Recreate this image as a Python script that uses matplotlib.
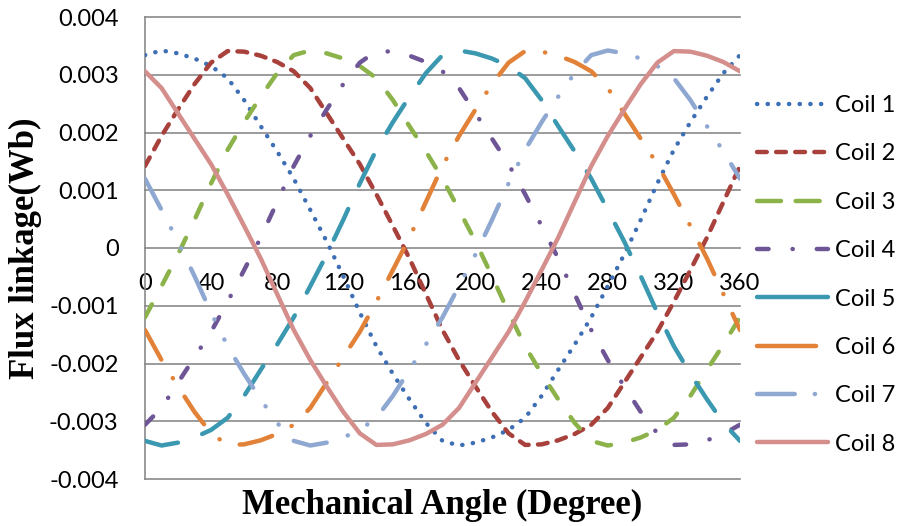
import matplotlib
matplotlib.use("Agg")
import matplotlib.pyplot as plt
from matplotlib.lines import Line2D

# Mechanical angle (degree)
angle = list(range(0, 361, 10))

# Flux linkage (Wb) of each coil
coil1 = [0.00334, 0.00342, 0.00337, 0.00328, 0.00315, 0.00294, 0.00256, 0.00211, 0.00167, 0.00120,
         0.00066, 0.00011, -0.00049, -0.00112, -0.00170, -0.00218, -0.00262, -0.00303, -0.00334, -0.00342,
         -0.00337, -0.00328, -0.00315, -0.00294, -0.00256, -0.00211, -0.00167, -0.00120, -0.00066, -0.00011,
         0.00049, 0.00112, 0.00170, 0.00218, 0.00262, 0.00303, 0.00334]
coil2 = [0.00142, 0.00194, 0.00240, 0.00284, 0.00321, 0.00341, 0.00340, 0.00333, 0.00322, 0.00306,
         0.00277, 0.00233, 0.00189, 0.00145, 0.00093, 0.00038, -0.00018, -0.00080, -0.00142, -0.00194,
         -0.00240, -0.00284, -0.00321, -0.00341, -0.00340, -0.00333, -0.00322, -0.00306, -0.00277, -0.00233,
         -0.00189, -0.00145, -0.00093, -0.00038, 0.00018, 0.00080, 0.00142]
coil3 = [-0.00120, -0.00066, -0.00011, 0.00049, 0.00112, 0.00170, 0.00218, 0.00262, 0.00303, 0.00334,
         0.00342, 0.00337, 0.00328, 0.00315, 0.00294, 0.00256, 0.00211, 0.00167, 0.00120, 0.00066,
         0.00011, -0.00049, -0.00112, -0.00170, -0.00218, -0.00262, -0.00303, -0.00334, -0.00342, -0.00337,
         -0.00328, -0.00315, -0.00294, -0.00256, -0.00211, -0.00167, -0.00120]
coil4 = [-0.00306, -0.00277, -0.00233, -0.00189, -0.00145, -0.00093, -0.00038, 0.00018, 0.00080, 0.00142,
         0.00194, 0.00240, 0.00284, 0.00321, 0.00341, 0.00340, 0.00333, 0.00322, 0.00306, 0.00277,
         0.00233, 0.00189, 0.00145, 0.00093, 0.00038, -0.00018, -0.00080, -0.00142, -0.00194, -0.00240,
         -0.00284, -0.00321, -0.00341, -0.00340, -0.00333, -0.00322, -0.00306]
coil5 = [-0.00334, -0.00342, -0.00337, -0.00328, -0.00315, -0.00294, -0.00256, -0.00211, -0.00167, -0.00120,
         -0.00066, -0.00011, 0.00049, 0.00112, 0.00170, 0.00218, 0.00262, 0.00303, 0.00334, 0.00342,
         0.00337, 0.00328, 0.00315, 0.00294, 0.00256, 0.00211, 0.00167, 0.00120, 0.00066, 0.00011,
         -0.00049, -0.00112, -0.00170, -0.00218, -0.00262, -0.00303, -0.00334]
coil6 = [-0.00142, -0.00194, -0.00240, -0.00284, -0.00321, -0.00341, -0.00340, -0.00333, -0.00322, -0.00306,
         -0.00277, -0.00233, -0.00189, -0.00145, -0.00093, -0.00038, 0.00018, 0.00080, 0.00142, 0.00194,
         0.00240, 0.00284, 0.00321, 0.00341, 0.00340, 0.00333, 0.00322, 0.00306, 0.00277, 0.00233,
         0.00189, 0.00145, 0.00093, 0.00038, -0.00018, -0.00080, -0.00142]
coil7 = [0.00120, 0.00066, 0.00011, -0.00049, -0.00112, -0.00170, -0.00218, -0.00262, -0.00303, -0.00334,
         -0.00342, -0.00337, -0.00328, -0.00315, -0.00294, -0.00256, -0.00211, -0.00167, -0.00120, -0.00066,
         -0.00011, 0.00049, 0.00112, 0.00170, 0.00218, 0.00262, 0.00303, 0.00334, 0.00342, 0.00337,
         0.00328, 0.00315, 0.00294, 0.00256, 0.00211, 0.00167, 0.00120]
coil8 = [0.00306, 0.00277, 0.00233, 0.00189, 0.00145, 0.00093, 0.00038, -0.00018, -0.00080, -0.00142,
         -0.00194, -0.00240, -0.00284, -0.00321, -0.00341, -0.00340, -0.00333, -0.00322, -0.00306, -0.00277,
         -0.00233, -0.00189, -0.00145, -0.00093, -0.00038, 0.00018, 0.00080, 0.00142, 0.00194, 0.00240,
         0.00284, 0.00321, 0.00341, 0.00340, 0.00333, 0.00322, 0.00306]

series_names = ["Coil 1", "Coil 2", "Coil 3", "Coil 4", "Coil 5", "Coil 6", "Coil 7", "Coil 8"]
x_ticks = [0, 40, 80, 120, 160, 200, 240, 280, 320, 360]
y_ticks = [-0.004, -0.003, -0.002, -0.001, 0, 0.001, 0.002, 0.003, 0.004]
y_tick_labels = ["-0.004", "-0.003", "-0.002", "-0.001", "0", "0.001", "0.002", "0.003", "0.004"]

colors = ["#3E6EB4", "#A8403C", "#8CB24A", "#6E5596", "#3A98B0", "#E28238", "#8FA8D2", "#D48E8C"]
styles = [
    (0, (0.05, 2.35)),                              # round dot
    (0, (2.2, 2.1)),                                # dash
    (0, (3.3, 5.1)),                                # long dash
    (0, (2.6, 5.4, 0.05, 5.4)),                     # long dash dot
    (0, (7.6, 5.8)),                                # very long dash
    (0, (7.6, 4.9, 0.05, 4.9)),                     # very long dash dot
    (0, (7.6, 5.0, 0.05, 5.0, 0.05, 5.0)),          # long dash dot dot
    "solid",
]
legend_styles = [
    styles[0], styles[1], (0, (5.4, 3.3)), styles[3],
    "solid", (0, (13.3, 20)), (0, (8.5, 4.5, 0.05, 4.5)), "solid",
]
LW = 3.2
GRID = "#8a8a8a"

W, H = 897, 526
fig = plt.figure(figsize=(W / 100, H / 100), dpi=100)
ax = fig.add_axes([145 / W, 1 - 479 / H, 595 / W, 462 / H])

all_coils = [coil1, coil2, coil3, coil4, coil5, coil6, coil7, coil8]
for vals, col, ls, name in zip(all_coils, colors, styles, series_names):
    ax.plot(angle, vals, color=col, lw=LW, linestyle=ls, dash_capstyle="round",
            solid_capstyle="round", solid_joinstyle="round", label=name, zorder=3)

ax.set_xlim(0, 360)
ax.set_ylim(-0.004, 0.004)

# horizontal gridlines
for yv in y_ticks:
    ax.axhline(yv, color=GRID, lw=1.2, zorder=1, clip_on=False)

for side in ["top", "right", "bottom"]:
    ax.spines[side].set_visible(False)
ax.spines["left"].set_color(GRID)
ax.spines["left"].set_linewidth(1.2)

# category axis crosses at zero
ax.spines["bottom"].set_position(("data", 0))
ax.set_xticks(x_ticks)
ax.set_xticklabels([str(v) for v in x_ticks])
ax.set_yticks(y_ticks)
ax.set_yticklabels(y_tick_labels)
ax.tick_params(axis="x", length=0, pad=18)
ax.tick_params(axis="y", length=0, pad=19)
for lab in ax.get_xticklabels() + ax.get_yticklabels():
    lab.set_fontfamily("Lato")
    lab.set_fontsize(17)
    lab.set_color("black")

ax.set_ylabel("Flux linkage(Wb)", fontfamily="Liberation Serif", fontweight="bold", fontsize=25)
ax.yaxis.set_label_coords(-0.173, 0.5)
ax.set_xlabel("Mechanical Angle (Degree)", fontfamily="Liberation Serif", fontweight="bold", fontsize=25,
              va="top")
ax.xaxis.set_label_coords(0.5, -0.021)

handles = [Line2D([0], [0], color=c, lw=LW, linestyle=ls, dash_capstyle="round", solid_capstyle="round")
           for c, ls in zip(colors, legend_styles)]
leg = fig.legend(handles, series_names, loc="upper left", bbox_to_anchor=(757 / W, 1 - 95 / H),
                 frameon=False, borderpad=0, borderaxespad=0, handlelength=3.0, handletextpad=0.3,
                 labelspacing=1.16, prop={"family": "Lato", "size": 17})

fig.savefig("out.png", dpi=100)
